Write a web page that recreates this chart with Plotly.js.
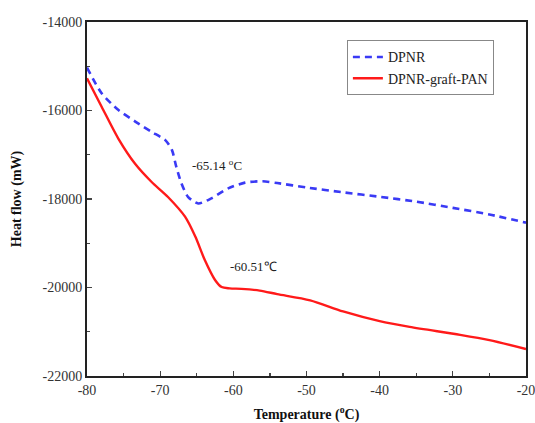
<!DOCTYPE html>
<html><head><meta charset="utf-8">
<script src="https://cdn.plot.ly/plotly-3.0.1.min.js"></script>
<style>html,body{margin:0;padding:0;background:#fff}</style>
</head><body><div id="c" style="width:535px;height:423px"></div>
<script>
const dpnrX = [-80, -78.0, -75.7, -73.4, -71.2, -69.3, -68.4, -67.8, -67.1, -66.2, -64.8, -63.0, -60.7, -58.4, -56, -54, -50, -45, -40, -35, -30, -25, -20];
const dpnrY = [-15030, -15610, -15990, -16250, -16480, -16670, -16890, -17270, -17645, -17950, -18100, -17985, -17760, -17630, -17600, -17640, -17740, -17850, -17950, -18060, -18200, -18350, -18535];
const panX = [-80, -78.0, -75.7, -73.4, -71.2, -68.9, -66.6, -65.2, -63.9, -62.5, -61.6, -60.5, -58.9, -56.4, -54, -49.5, -45, -40.0, -35.9, -29.0, -25, -20];
const panY = [-15272, -15914, -16640, -17210, -17610, -17960, -18400, -18850, -19380, -19830, -19990, -20020, -20030, -20070, -20150, -20290, -20540, -20760, -20890, -21070, -21190, -21390];
const seriesNames = ['DPNR', 'DPNR-graft-PAN'];
const xTickVals = [-80, -70, -60, -50, -40, -30, -20];
const xTickText = ['-80', '-70', '-60', '-50', '-40', '-30', '-20'];
const yTickVals = [-22000, -20000, -18000, -16000, -14000];
const yTickText = ['-22000', '-20000', '-18000', '-16000', '-14000'];
const noteText = ['-65.14 <sup>o</sup>C', '-60.51℃'];
const noteX = [-62.2, -57.3];
const noteY = [-17230, -19530];

const font = 'Liberation Serif, Times New Roman, serif';
const data = [
  {x: dpnrX, y: dpnrY, name: seriesNames[0], mode: 'lines',
   line: {color: '#3a3af5', width: 2.6, dash: '7px,5px', shape: 'spline', smoothing: 0.7}},
  {x: panX, y: panY, name: seriesNames[1], mode: 'lines',
   line: {color: '#ff1a1a', width: 2.4, shape: 'spline', smoothing: 0.8}}
];
const layout = {
  width: 535, height: 423,
  margin: {l: 87, r: 9, t: 22, b: 47},
  paper_bgcolor: '#fff', plot_bgcolor: '#fff',
  font: {family: font, color: '#222', size: 14},
  showlegend: true,
  legend: {x: 0.592, y: 0.948, xanchor: 'left', yanchor: 'top', bgcolor: '#fff',
           bordercolor: '#888', borderwidth: 1, font: {family: font, size: 14, color: '#222'},
           tracegroupgap: 0, itemwidth: 30},
  xaxis: {range: [-80, -20], tickmode: 'array', tickvals: xTickVals, ticktext: xTickText,
          ticks: 'inside', ticklen: 5, tickwidth: 1.3, ticklabeloverflow: 'allow',
          showline: true, linecolor: '#222', linewidth: 2, mirror: true, showgrid: false, zeroline: false,
          tickfont: {family: font, size: 14, color: '#333'},
          minor: {dtick: 5, tick0: -80, ticks: 'inside', ticklen: 3, tickwidth: 1.2, showgrid: false},
          title: {text: '<b>Temperature (<sup>o</sup>C)</b>', font: {family: font, size: 14, color: '#111'}, standoff: 12}},
  yaxis: {range: [-22000, -14000], tickmode: 'array', tickvals: yTickVals, ticktext: yTickText,
          ticks: 'inside', ticklen: 5, tickwidth: 1.3, ticklabeloverflow: 'allow',
          showline: true, linecolor: '#222', linewidth: 2, mirror: true, showgrid: false, zeroline: false,
          tickfont: {family: font, size: 14, color: '#333'},
          minor: {dtick: 1000, tick0: -22000, ticks: 'inside', ticklen: 3, tickwidth: 1.2, showgrid: false},
          title: {text: '<b>Heat flow (mW)</b>', font: {family: font, size: 14, color: '#111'}, standoff: 18}},
  annotations: noteText.map((t, i) => ({x: noteX[i], y: noteY[i], text: t, showarrow: false,
     font: {family: font, size: 13, color: '#222'}}))
};
Plotly.newPlot('c', data, layout, {displayModeBar: false, staticPlot: true});
</script></body></html>
